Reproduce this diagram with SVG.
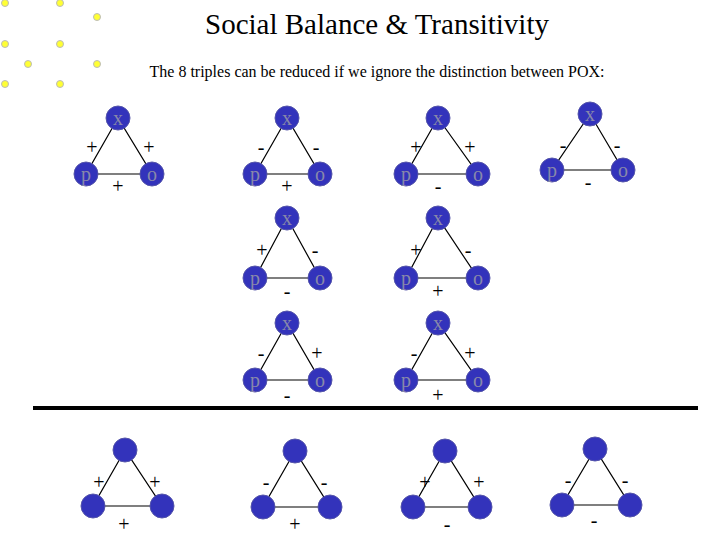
<svg xmlns="http://www.w3.org/2000/svg" width="720" height="540" viewBox="0 0 720 540">
<style>
.n{fill:#3333bb;stroke:#5555aa;stroke-width:1}
.l{font-family:"Liberation Serif",serif;font-size:20px;fill:#8888aa;text-anchor:middle}
.s{font-family:"Liberation Serif",serif;font-size:20px;fill:#000;text-anchor:middle}
.e{stroke:#000;stroke-width:1.2}
.y{fill:#ffff33;stroke:#bbb;stroke-width:1}
</style>
<rect width="720" height="540" fill="#fff"/>
<g id="dots">
<circle class="y" cx="5" cy="3" r="3.5"/><circle class="y" cx="60" cy="3" r="3.5"/><circle class="y" cx="97" cy="17" r="3.5"/>
<circle class="y" cx="5" cy="44" r="3.5"/><circle class="y" cx="60" cy="44" r="3.5"/>
<circle class="y" cx="28" cy="64" r="3.5"/><circle class="y" cx="97" cy="64" r="3.5"/>
<circle class="y" cx="5" cy="84" r="3.5"/><circle class="y" cx="60" cy="84" r="3.5"/>
</g>
<text x="377" y="34" font-family="Liberation Serif,serif" font-size="29" text-anchor="middle">Social Balance &amp; Transitivity</text>
<text x="377" y="77" font-family="Liberation Serif,serif" font-size="16" text-anchor="middle">The 8 triples can be reduced if we ignore the distinction between POX:</text>
<g id="connectors">
<path class="e" d="M118,118L86,174L152,174Z M287,118L255,174L320,174Z M438,118L406,174L478,174Z M590,114L552,170L623,170Z M287,218L255,278L320,278Z M438,218L406,278L478,278Z M287,323L255,380L320,380Z M438,323L406,380L478,380Z M125,450L93,506L162,506Z M295,451L263,507L330,507Z M445,451L413,507L480,507Z M595,449L562,505L630,505Z" fill="none"/>
<line x1="33" y1="408" x2="698" y2="408" stroke="#000" stroke-width="4"/>
</g>
<g id="t1"><circle class="n" cx="118" cy="118" r="12"/><circle class="n" cx="86" cy="174" r="12"/><circle class="n" cx="152" cy="174" r="12"/>
<text class="l" x="118" y="125">x</text><text class="l" x="86" y="181">p</text><text class="l" x="152" y="181">o</text>
<text class="s" x="92" y="154">+</text><text class="s" x="149" y="154">+</text><text class="s" x="118" y="193">+</text></g>
<g id="t2"><circle class="n" cx="287" cy="118" r="12"/><circle class="n" cx="255" cy="174" r="12"/><circle class="n" cx="320" cy="174" r="12"/>
<text class="l" x="287" y="125">x</text><text class="l" x="255" y="181">p</text><text class="l" x="320" y="181">o</text>
<text class="s" x="261" y="154">-</text><text class="s" x="316" y="154">-</text><text class="s" x="287" y="193">+</text></g>
<g id="t3"><circle class="n" cx="438" cy="118" r="12"/><circle class="n" cx="406" cy="174" r="12"/><circle class="n" cx="478" cy="174" r="12"/>
<text class="l" x="438" y="125">x</text><text class="l" x="406" y="181">p</text><text class="l" x="478" y="181">o</text>
<text class="s" x="416" y="154">+</text><text class="s" x="470" y="154">+</text><text class="s" x="438" y="193">-</text></g>
<g id="t4"><circle class="n" cx="590" cy="114" r="12"/><circle class="n" cx="552" cy="170" r="12"/><circle class="n" cx="623" cy="170" r="12"/>
<text class="l" x="590" y="121">x</text><text class="l" x="552" y="177">p</text><text class="l" x="623" y="177">o</text>
<text class="s" x="563" y="152">-</text><text class="s" x="617" y="152">-</text><text class="s" x="588" y="189">-</text></g>
<g id="t5"><circle class="n" cx="287" cy="218" r="12"/><circle class="n" cx="255" cy="278" r="12"/><circle class="n" cx="320" cy="278" r="12"/>
<text class="l" x="287" y="225">x</text><text class="l" x="255" y="285">p</text><text class="l" x="320" y="285">o</text>
<text class="s" x="262" y="257">+</text><text class="s" x="315" y="257">-</text><text class="s" x="287" y="298">-</text></g>
<g id="t6"><circle class="n" cx="438" cy="218" r="12"/><circle class="n" cx="406" cy="278" r="12"/><circle class="n" cx="478" cy="278" r="12"/>
<text class="l" x="438" y="225">x</text><text class="l" x="406" y="285">p</text><text class="l" x="478" y="285">o</text>
<text class="s" x="416" y="257">+</text><text class="s" x="468" y="257">-</text><text class="s" x="438" y="298">+</text></g>
<g id="t7"><circle class="n" cx="287" cy="323" r="12"/><circle class="n" cx="255" cy="380" r="12"/><circle class="n" cx="320" cy="380" r="12"/>
<text class="l" x="287" y="330">x</text><text class="l" x="255" y="387">p</text><text class="l" x="320" y="387">o</text>
<text class="s" x="261" y="360">-</text><text class="s" x="317" y="360">+</text><text class="s" x="287" y="402">-</text></g>
<g id="t8"><circle class="n" cx="438" cy="323" r="12"/><circle class="n" cx="406" cy="380" r="12"/><circle class="n" cx="478" cy="380" r="12"/>
<text class="l" x="438" y="330">x</text><text class="l" x="406" y="387">p</text><text class="l" x="478" y="387">o</text>
<text class="s" x="414" y="360">-</text><text class="s" x="470" y="360">+</text><text class="s" x="438" y="402">+</text></g>
<g id="b1"><circle class="n" cx="125" cy="450" r="12"/><circle class="n" cx="93" cy="506" r="12"/><circle class="n" cx="162" cy="506" r="12"/>
<text class="s" x="99" y="489">+</text><text class="s" x="155" y="489">+</text><text class="s" x="124" y="531">+</text></g>
<g id="b2"><circle class="n" cx="295" cy="451" r="12"/><circle class="n" cx="263" cy="507" r="12"/><circle class="n" cx="330" cy="507" r="12"/>
<text class="s" x="266" y="489">-</text><text class="s" x="324" y="489">-</text><text class="s" x="295" y="531">+</text></g>
<g id="b3"><circle class="n" cx="445" cy="451" r="12"/><circle class="n" cx="413" cy="507" r="12"/><circle class="n" cx="480" cy="507" r="12"/>
<text class="s" x="425" y="489">+</text><text class="s" x="479" y="489">+</text><text class="s" x="447" y="531">-</text></g>
<g id="b4"><circle class="n" cx="595" cy="449" r="12"/><circle class="n" cx="562" cy="505" r="12"/><circle class="n" cx="630" cy="505" r="12"/>
<text class="s" x="568" y="487">-</text><text class="s" x="625" y="487">-</text><text class="s" x="594" y="527">-</text></g>
</svg>
